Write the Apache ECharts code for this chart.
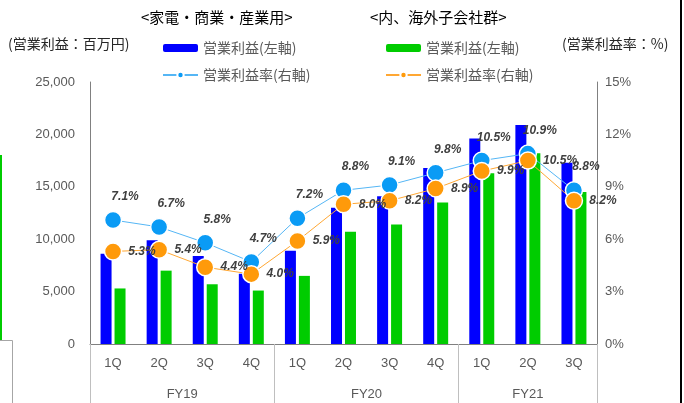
<html lang="ja">
<head>
  <meta charset="UTF-8">
  <title>営業利益</title>
  <style>
    *{ margin: 0; padding: 0; }
    body{ background: #fff; }
    #main{ width: 684px; height: 403px; }
  </style>
</head>
<body>
  <div id="main"></div>
  <script src="https://cdn.jsdelivr.net/npm/echarts@6/dist/echarts.min.js"></script>
  <script type="text/javascript">
  // データ
  var quarters = ['1Q', '2Q', '3Q', '4Q', '1Q', '2Q', '3Q', '4Q', '1Q', '2Q', '3Q'];
  var fiscalYears = ['FY19', 'FY20', 'FY21'];
  var fyQuarterCount = [4, 4, 3];
  // 家電・商業・産業用
  var profitHome = [8600, 9900, 8400, 6700, 8900, 13000, 14100, 16800, 19600, 20900, 17300];
  var rateHome = [7.1, 6.7, 5.8, 4.7, 7.2, 8.8, 9.1, 9.8, 10.5, 10.9, 8.8];
  // 内、海外子会社群
  var profitSub = [5300, 7000, 5700, 5100, 6500, 10700, 11400, 13500, 16300, 18200, 14500];
  var rateSub = [5.3, 5.4, 4.4, 4.0, 5.9, 8.0, 8.2, 8.9, 9.9, 10.5, 8.2];
  var leftTicks = [0, 25000, 5000];
  var rightTicks = [0, 15, 3];

  // FY軸 (半区切り 2n+1 点)
  var fySlots = [];
  var fyBounds = [];
  for (var i = 0; i <= quarters.length * 2; i++) fySlots.push('');
  var start = 0;
  fiscalYears.forEach(function (fy, k) {
    fyBounds.push(start * 2);
    fySlots[start * 2 + fyQuarterCount[k]] = fy;
    start += fyQuarterCount[k];
  });
  fyBounds.push(start * 2);

  var legendText = {
    home: '営業利益(左軸)', sub: '営業利益(左軸)',
    homeRate: '営業利益率(右軸)', subRate: '営業利益率(右軸)'
  };
  var numFont = 'Liberation Sans';
  var jpFont = 'Noto Sans CJK JP';
  var labelStyle = {
    show: true, fontSize: 12, fontWeight: 'bold', fontStyle: 'italic',
    color: '#404040', fontFamily: numFont,
    formatter: function (p) { return p.value.toFixed(1) + '%'; }
  };

  var myChart = echarts.init(document.getElementById('main'));
  var option = {
    animation: false,
    grid: { left: 90, right: 87, top: 82, bottom: 59 },
    legend: [
      {
        data: ['home', 'homeRate'], orient: 'vertical', left: 157, top: 36,
        itemWidth: 35, itemHeight: 8, itemGap: 13,
        formatter: function (n) { return legendText[n]; },
        textStyle: { color: '#595959', fontSize: 14, fontFamily: jpFont }
      },
      {
        data: ['sub', 'subRate'], orient: 'vertical', left: 380, top: 36,
        itemWidth: 35, itemHeight: 8, itemGap: 13,
        formatter: function (n) { return legendText[n]; },
        textStyle: { color: '#595959', fontSize: 14, fontFamily: jpFont }
      }
    ],
    xAxis: [
      {
        type: 'category', data: quarters,
        axisLine: { lineStyle: { color: '#808080' } },
        axisTick: { show: false },
        axisLabel: { color: '#595959', fontSize: 13, fontFamily: numFont, margin: 13 }
      },
      {
        type: 'category', data: fySlots, position: 'bottom', boundaryGap: false,
        axisLine: { show: false },
        axisTick: {
          show: true, length: 59,
          interval: function (idx) { return fyBounds.indexOf(idx) !== -1; },
          lineStyle: { color: '#BFBFBF' }
        },
        axisLabel: { interval: 0, color: '#595959', fontSize: 13, fontFamily: numFont, margin: 44 }
      }
    ],
    yAxis: [
      {
        type: 'value', min: leftTicks[0], max: leftTicks[1], interval: leftTicks[2],
        splitLine: { show: false },
        axisLine: { show: true, lineStyle: { color: '#808080' } },
        axisLabel: {
          color: '#595959', fontSize: 13, fontFamily: numFont, margin: 15,
          formatter: function (v) { return v.toLocaleString('en-US'); }
        }
      },
      {
        type: 'value', min: rightTicks[0], max: rightTicks[1], interval: rightTicks[2],
        splitLine: { show: false },
        axisLine: { show: true, lineStyle: { color: '#808080' } },
        axisLabel: { color: '#595959', fontSize: 13, fontFamily: numFont, margin: 8, formatter: '{value}%' }
      }
    ],
    series: [
      {
        name: 'home', type: 'bar', data: profitHome, barWidth: 11, barGap: '27%',
        itemStyle: { color: '#0000FF' }
      },
      {
        name: 'sub', type: 'bar', data: profitSub, barWidth: 11,
        itemStyle: { color: '#00CC00' }
      },
      {
        name: 'homeRate', type: 'line', yAxisIndex: 1, data: rateHome,
        symbol: 'circle', symbolSize: 17, z: 5,
        lineStyle: { color: '#55B6F5', width: 1 },
        itemStyle: { color: '#0A9BF5', borderColor: '#fff', borderWidth: 1.5 },
        label: Object.assign({}, labelStyle, { position: 'top', distance: 8, offset: [12, 0] })
      },
      {
        name: 'subRate', type: 'line', yAxisIndex: 1, data: rateSub,
        symbol: 'circle', symbolSize: 17, z: 5,
        lineStyle: { color: '#FFA733', width: 1 },
        itemStyle: { color: '#FF9A0A', borderColor: '#fff', borderWidth: 1.5 },
        label: Object.assign({}, labelStyle, { position: 'right', distance: 6 })
      }
    ],
    graphic: [
      { type: 'text', left: 141, top: 10, style: { text: '<家電・商業・産業用>', fontSize: 15, fill: '#000', fontFamily: jpFont } },
      { type: 'text', left: 370, top: 10, style: { text: '<内、海外子会社群>', fontSize: 15, fill: '#000', fontFamily: jpFont } },
      { type: 'text', left: 8, top: 37, style: { text: '(営業利益：百万円)', fontSize: 14, fill: '#262626', fontFamily: jpFont } },
      { type: 'text', left: 562, top: 37, style: { text: '(営業利益率：%)', fontSize: 14, fill: '#262626', fontFamily: jpFont } },
      // 隣のスライドの切れ端
      { type: 'line', shape: { x1: 1, y1: 155, x2: 1, y2: 340 }, style: { stroke: '#00CC00', lineWidth: 2 } },
      { type: 'polyline', shape: { points: [[0, 340.5], [12.5, 340.5], [12.5, 403]] }, style: { stroke: '#A6A6A6', fill: null, lineWidth: 1 } },
      { type: 'line', shape: { x1: 681, y1: 0, x2: 681, y2: 403 }, style: { stroke: '#000', lineWidth: 2 } }
    ]
  };
  myChart.setOption(option);
  </script>
</body>
</html>
